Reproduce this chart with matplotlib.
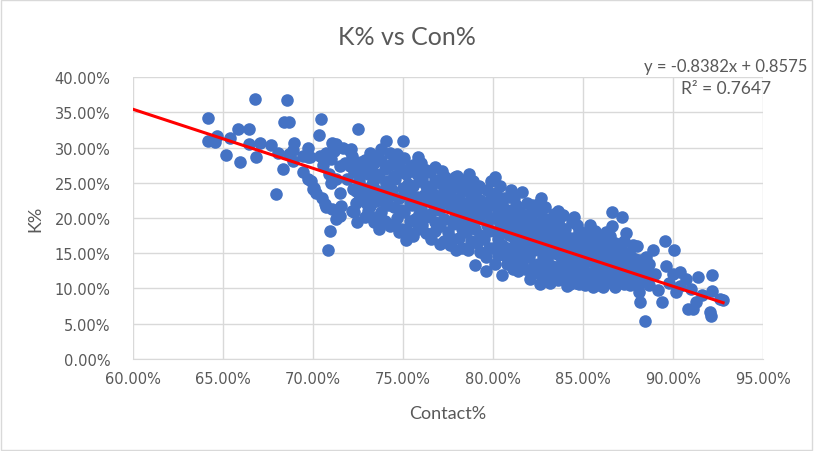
import matplotlib
matplotlib.use("Agg")
import matplotlib.pyplot as plt
from matplotlib.ticker import PercentFormatter, MultipleLocator
from matplotlib.patches import Rectangle

# contact% / K% pairs (percent units)
sparse_pts = [
    (64.2, 34.2), (64.2, 31.0), (64.6, 30.8), (64.7, 31.7), (65.2, 28.9), (65.4, 31.4),
    (65.85, 32.6), (65.95, 28.0), (66.45, 32.6), (66.45, 30.5), (66.8, 36.9), (66.85, 28.7),
    (67.1, 30.6), (67.7, 30.4), (67.98, 23.4), (68.07, 29.3), (68.35, 27.0), (68.4, 33.6),
    (68.7, 33.6), (68.57, 36.7), (68.7, 29.1), (68.94, 30.7), (68.9, 28.1), (68.9, 29.6),
    (69.46, 26.5), (69.46, 28.8), (69.74, 28.6), (69.74, 30.0), (69.83, 28.6), (70.35, 31.8),
    (70.48, 34.0), (69.9, 25.3), (69.74, 25.5), (70.1, 24.3), (70.0, 24.1), (70.2, 23.6),
    (70.5, 22.9), (70.7, 22.0), (70.76, 21.5), (71.1, 21.3), (70.39, 28.8), (70.76, 29.3),
    (71.04, 28.4), (71.3, 30.5), (71.7, 30.0), (72.15, 29.8), (71.5, 27.4), (72.05, 27.4),
    (72.4, 27.9), (72.6, 26.5), (71.3, 25.5), (71.9, 25.5), (72.24, 24.1), (71.5, 23.6),
    (72.4, 22.2), (73.0, 23.2), (73.35, 24.6), (73.2, 21.7), (73.6, 19.4), (73.7, 18.4),
    (72.3, 20.8), (70.85, 15.4), (70.94, 18.2), (71.3, 19.9), (71.5, 20.3), (71.6, 21.7),
    (72.48, 19.5), (72.5, 32.6), (71.1, 30.7), (70.6, 27.5), (70.9, 26.2), (71.0, 25.0),
    (71.2, 29.5), (71.8, 27.8), (72.2, 28.8), (74.1, 30.9), (75.0, 31.0), (74.3, 29.3),
    (74.7, 29.1), (75.2, 16.9), (77.05, 16.3), (77.98, 15.4), (75.85, 28.6), (77.2, 26.7),
    (79.0, 13.3), (79.6, 12.4), (80.5, 11.9), (81.4, 12.5), (82.06, 11.35), (82.6, 10.6),
    (83.2, 10.8), (84.1, 10.4), (84.8, 10.6), (85.55, 10.2), (79.24, 24.6), (79.9, 25.3),
    (80.1, 25.8), (81.6, 23.7), (82.7, 22.9), (86.6, 20.8), (87.2, 20.2), (86.65, 18.9),
    (88.2, 8.0), (88.44, 5.4), (88.9, 15.4), (89.4, 8.0), (89.56, 16.8), (90.07, 15.5),
    (90.4, 12.3), (90.4, 10.4), (90.76, 11.35), (90.85, 7.1), (91.0, 9.9), (91.1, 7.1),
    (91.3, 8.0), (91.4, 11.6), (91.6, 9.0), (92.05, 6.6), (92.15, 6.1), (92.2, 11.9),
    (92.2, 9.7), (92.6, 8.5), (92.8, 8.3), (88.1, 9.5), (88.7, 10.5), (89.2, 9.8),
    (89.0, 12.0), (89.6, 13.2), (89.8, 10.8), (90.0, 12.0), (90.2, 9.5), (88.5, 14.5),
    (88.3, 12.5), (88.0, 16.0),
]

band_pts = [
    (72.2, 21.0), (72.4, 23.8), (72.3, 26.5), (72.1, 29.5),
    (72.9, 20.2), (73.0, 22.0), (72.8, 24.2), (73.0, 27.0), (72.9, 28.2),
    (73.4, 19.5), (73.5, 22.4), (73.3, 24.8), (73.4, 27.8),
    (73.8, 20.8), (73.9, 23.2), (73.7, 25.8), (73.8, 29.8),
    (74.3, 18.8), (74.2, 21.8), (74.4, 24.0), (74.3, 27.5), (74.2, 25.2),
    (74.7, 20.0), (74.8, 22.8), (74.6, 25.5), (74.7, 28.0), (74.8, 18.0),
    (75.2, 18.5), (75.1, 20.8), (75.3, 23.5), (75.2, 26.2), (75.1, 28.5),
    (75.6, 17.5), (75.7, 19.8), (75.5, 21.8), (75.6, 24.5), (75.7, 26.8),
    (76.1, 19.0), (76.0, 21.5), (76.2, 23.2), (76.1, 25.5), (76.0, 27.8),
    (76.6, 17.0), (76.5, 20.5), (76.7, 22.0), (76.6, 24.0), (76.5, 26.5),
    (77.1, 18.8), (77.0, 21.2), (77.2, 23.0), (77.1, 25.0), (77.3, 26.0),
    (77.6, 16.2), (77.5, 18.0), (77.7, 21.5), (77.6, 23.8), (77.5, 25.5),
    (78.1, 17.2), (78.0, 19.5), (78.2, 20.8), (78.1, 22.8), (78.0, 24.8),
    (78.6, 15.5), (78.5, 18.0), (78.7, 20.5), (78.6, 22.2), (78.5, 24.2), (78.7, 26.2),
    (79.1, 16.5), (79.0, 18.5), (79.2, 19.8), (79.1, 21.5), (79.0, 23.5),
    (79.6, 14.5), (79.5, 17.0), (79.7, 19.0), (79.6, 21.2), (79.5, 22.2), (79.7, 24.0),
    (80.1, 13.5), (80.0, 15.8), (80.2, 18.0), (80.1, 20.0), (80.0, 22.0), (80.2, 23.5),
    (80.6, 14.8), (80.5, 16.2), (80.7, 18.2), (80.6, 20.5), (80.5, 21.8),
    (81.1, 12.8), (81.0, 15.0), (81.2, 17.2), (81.1, 19.0), (81.0, 21.0), (81.2, 22.8),
    (81.6, 13.8), (81.5, 15.8), (81.7, 17.5), (81.6, 19.5), (81.5, 20.8),
    (82.1, 12.2), (82.0, 14.5), (82.2, 16.8), (82.1, 18.2), (82.0, 20.5), (82.2, 21.8),
    (82.6, 12.0), (82.5, 13.5), (82.7, 15.8), (82.6, 17.0), (82.5, 19.2), (82.7, 20.8),
    (83.1, 11.5), (83.0, 14.0), (83.2, 15.5), (83.1, 16.8), (83.0, 18.5), (83.2, 19.8),
    (83.6, 11.2), (83.5, 12.5), (83.7, 14.8), (83.6, 16.2), (83.5, 17.8), (83.7, 19.8),
    (84.1, 11.5), (84.0, 13.2), (84.2, 14.8), (84.1, 16.2), (84.0, 18.5),
    (84.6, 10.8), (84.5, 12.2), (84.7, 14.2), (84.6, 15.8), (84.5, 17.2), (84.7, 19.0),
    (85.1, 10.5), (85.0, 12.8), (85.2, 13.8), (85.1, 15.5), (85.0, 17.8),
    (85.6, 11.0), (85.5, 12.2), (85.7, 13.5), (85.6, 15.0), (85.5, 16.2), (85.7, 18.2),
    (86.1, 10.2), (86.0, 12.0), (86.2, 13.2), (86.1, 14.8), (86.0, 16.8),
    (86.6, 10.8), (86.5, 12.2), (86.7, 13.8), (86.6, 15.2), (86.5, 17.5),
    (87.1, 11.0), (87.0, 12.8), (87.2, 14.5), (87.1, 16.2),
    (87.6, 10.5), (87.5, 12.2), (87.7, 13.5), (87.6, 14.8),
    (88.1, 10.8), (88.0, 12.8), (88.2, 14.0),
    (86.3, 18.0), (87.4, 17.8), (86.8, 16.5), (87.3, 12.5), (87.7, 11.2), (86.1, 10.8),
    (85.4, 19.0), (84.5, 20.2), (83.6, 21.0), (82.5, 22.0), (81.0, 24.0), (80.6, 22.8),
    (78.7, 25.0), (78.0, 26.0), (76.8, 27.2), (75.6, 27.5), (74.8, 27.2), (73.8, 28.2),
]

# second pass over the band, the gaps between the first columns
band_pts_2 = [
    (72.6, 22.5), (72.6, 25.2), (72.7, 28.0),
    (73.1, 21.0), (73.2, 23.6), (73.1, 26.2), (73.2, 29.2),
    (73.6, 20.2), (73.6, 23.8), (73.5, 26.2), (73.6, 28.8),
    (74.0, 19.6), (74.0, 22.2), (74.1, 24.8), (74.0, 27.0),
    (74.5, 19.2), (74.5, 21.5), (74.4, 23.3), (74.5, 26.0), (74.5, 28.5),
    (74.9, 18.5), (74.9, 21.2), (75.0, 24.2), (74.9, 26.5),
    (75.4, 17.8), (75.4, 19.6), (75.4, 22.2), (75.3, 24.8), (75.4, 27.2),
    (75.85, 18.5), (75.9, 20.5), (75.8, 23.0), (75.9, 25.2), (75.8, 26.2),
    (76.3, 17.8), (76.3, 20.2), (76.4, 22.6), (76.3, 24.6), (76.3, 26.8),
    (76.8, 18.2), (76.8, 19.5), (76.9, 21.5), (76.8, 23.2), (76.8, 25.4),
    (77.3, 16.8), (77.3, 19.8), (77.4, 22.2), (77.3, 24.2),
    (77.8, 17.0), (77.8, 19.2), (77.9, 20.2), (77.8, 22.6), (77.8, 24.4), (77.9, 25.8),
    (78.3, 15.8), (78.3, 18.5), (78.4, 20.0), (78.3, 21.8), (78.3, 23.8), (78.4, 25.4),
    (78.8, 16.8), (78.8, 19.2), (78.9, 21.2), (78.8, 23.0), (78.9, 25.2),
    (79.3, 15.2), (79.3, 17.6), (79.4, 20.5), (79.3, 22.5), (79.3, 24.2),
    (79.8, 15.8), (79.8, 18.2), (79.9, 20.0), (79.8, 21.8), (79.9, 23.2),
    (80.3, 14.8), (80.3, 17.0), (80.4, 19.2), (80.3, 21.0), (80.3, 22.8), (80.4, 24.5),
    (80.8, 13.5), (80.8, 15.8), (80.9, 17.6), (80.8, 19.6), (80.8, 21.2), (80.9, 23.0),
    (81.3, 14.2), (81.3, 16.5), (81.4, 18.2), (81.3, 20.0), (81.3, 21.8),
    (81.8, 12.8), (81.8, 15.0), (81.9, 16.5), (81.8, 18.6), (81.8, 20.2), (81.9, 22.2),
    (82.3, 13.2), (82.3, 15.5), (82.4, 17.6), (82.3, 19.5), (82.3, 21.0),
    (82.8, 12.5), (82.8, 14.6), (82.9, 16.4), (82.8, 18.2), (82.8, 20.0), (82.9, 21.6),
    (83.3, 12.5), (83.3, 13.2), (83.4, 15.0), (83.3, 17.5), (83.3, 19.0), (83.4, 20.6),
    (83.8, 11.8), (83.8, 13.4), (83.9, 15.5), (83.8, 17.0), (83.8, 18.6), (83.9, 20.4),
    (84.3, 10.6), (84.3, 12.5), (84.4, 14.0), (84.3, 15.5), (84.3, 17.2), (84.4, 19.4),
    (84.8, 11.5), (84.8, 13.0), (84.9, 15.0), (84.8, 16.5), (84.8, 18.2),
    (85.3, 11.2), (85.3, 12.0), (85.4, 14.2), (85.3, 16.0), (85.3, 17.0), (85.4, 18.6),
    (85.8, 10.5), (85.8, 11.8), (85.9, 14.2), (85.8, 15.8), (85.8, 17.0),
    (86.3, 11.5), (86.3, 12.8), (86.4, 14.0), (86.3, 15.5), (86.3, 16.2), (86.4, 17.2),
    (86.8, 10.2), (86.8, 11.8), (86.9, 13.2), (86.8, 14.5), (86.8, 16.0),
    (87.3, 10.6), (87.3, 11.8), (87.4, 13.8), (87.3, 15.2), (87.3, 16.8),
    (87.8, 11.8), (87.8, 13.0), (87.9, 14.2), (87.8, 16.2),
    (88.3, 11.0), (88.3, 13.5), (88.7, 12.2), (88.7, 13.5),
]

all_pts = sparse_pts + band_pts + band_pts_2
contact = [p[0] / 100 for p in all_pts]
kpct = [p[1] / 100 for p in all_pts]

# trendline as printed on the chart
slope = -0.8382
intercept = 0.8575
trend_x = [0.60, 0.928]

fig = plt.figure(figsize=(8.14, 4.52), dpi=100)
ax = fig.add_axes([0.163, 0.204, 0.774, 0.623])

ax.scatter(contact, kpct, s=82, color="#4472C4", zorder=3, linewidths=0)
ax.plot(trend_x, [slope * x + intercept for x in trend_x], color="#FF0000", lw=2.2, zorder=4)

ax.set_xlim(0.60, 0.95)
ax.set_ylim(0.0, 0.40)
ax.xaxis.set_major_locator(MultipleLocator(0.05))
ax.yaxis.set_major_locator(MultipleLocator(0.05))
ax.xaxis.set_major_formatter(PercentFormatter(1.0, decimals=2))
ax.yaxis.set_major_formatter(PercentFormatter(1.0, decimals=2))
ax.grid(True, color="#D9D9D9", lw=1)
ax.set_axisbelow(True)
for s in ["top", "right", "left"]:
    ax.spines[s].set_visible(False)
ax.spines["bottom"].set_color("#D9D9D9")
ax.tick_params(length=0, labelsize=10.5, colors="#595959")
ax.tick_params(axis="x", pad=9)
ax.tick_params(axis="y", pad=16)

fig.text(0.5, 0.916, "K% vs Con%", ha="center", va="center", fontsize=18,
         color="#595959", family="Lato")
fig.text(0.043, 0.515, "K%", rotation=90, ha="center", va="center", fontsize=13,
         color="#595959", family="Lato")
fig.text(0.55, 0.084, "Contact%", ha="center", va="center", fontsize=13,
         color="#595959", family="Lato")
fig.text(0.892, 0.852, "y = -0.8382x + 0.8575", ha="center", va="center", fontsize=12,
         color="#595959", family="Lato")
fig.text(0.892, 0.803, "R² = 0.7647", ha="center", va="center", fontsize=12.5,
         color="#595959", family="Lato")

fig.patches.append(Rectangle((0.001, 0.002), 0.997, 0.995, transform=fig.transFigure,
                             fill=False, edgecolor="#D9D9D9", lw=1))

fig.savefig("out.png", dpi=100)
